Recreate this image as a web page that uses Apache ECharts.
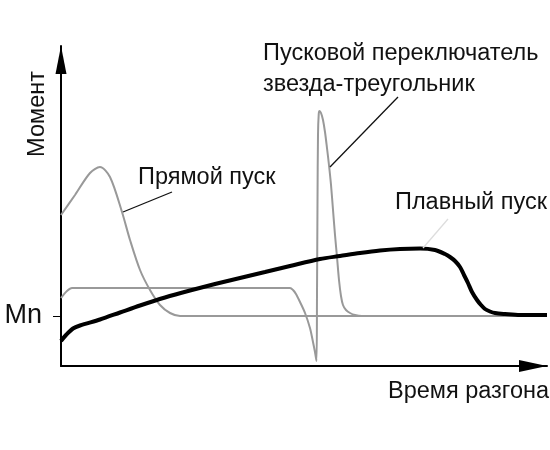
<!DOCTYPE html>
<html>
<head>
<meta charset="utf-8">
<script src="https://cdn.jsdelivr.net/npm/echarts@6/dist/echarts.min.js"></script>
<style>
  html, body { margin: 0; padding: 0; background: #fff; }
  #chart { width: 550px; height: 450px; }
</style>
</head>
<body>
<div id="chart"></div>
<script>
    // время разгона 0..100, момент в единицах Mn (Mn = 1)
    var directStart = [
        [0, 3.02], [2.88, 3.42], [5.97, 3.86], [8.02, 3.98], [10.08, 3.78],
        [12.55, 3.08], [14.2, 2.52], [16.26, 1.92], [18.31, 1.52], [20.37, 1.22],
        [22.43, 1.06], [24.49, 1.0], [30, 1.0], [100, 1.0]
    ];
    var starDelta = [
        [0, 1.36], [1.23, 1.5], [2.26, 1.56], [10, 1.56], [47.12, 1.56],
        [47.74, 1.52], [48.35, 1.44], [49.18, 1.28], [50.21, 1.06], [51.23, 0.76],
        [51.85, 0.48], [52.26, 0.28], [52.57, 0.1],
        [52.67, 1.32], [52.78, 3.32], [52.88, 4.62], [53.03, 5.04], [53.19, 5.1],
        [53.5, 5.06], [53.91, 4.92], [54.32, 4.68], [54.73, 4.36], [55.14, 4.02],
        [55.56, 3.62], [55.97, 3.12], [56.38, 2.62], [56.79, 2.18], [57.2, 1.72],
        [57.61, 1.4], [58.02, 1.22], [58.64, 1.12], [59.47, 1.06], [60.49, 1.02],
        [61.93, 1.0], [70, 1.0], [100, 1.0]
    ];
    var softStart = [
        [0, 0.5], [1.03, 0.62], [2.47, 0.75], [3.91, 0.81], [8.02, 0.93],
        [12.14, 1.07], [16.26, 1.21], [21.4, 1.37], [26.54, 1.51], [31.69, 1.64],
        [36.83, 1.76], [41.98, 1.88], [47.12, 2.0], [53.29, 2.14], [57.41, 2.2],
        [61.52, 2.26], [65.64, 2.31], [69.75, 2.34], [73.87, 2.35], [76.95, 2.32],
        [79.01, 2.24], [80.04, 2.18], [81.07, 2.1], [82.1, 1.98], [82.92, 1.82],
        [83.74, 1.66], [84.57, 1.48], [85.6, 1.32], [86.42, 1.22], [87.24, 1.14],
        [88.27, 1.09], [89.3, 1.06], [91.36, 1.04], [94.44, 1.02], [100, 1.02]
    ];
    var leaderDirect = [[12.76, 3.08], [22.84, 3.48]];
    var leaderStar = [[55.35, 3.98], [69.34, 5.38]];
    var leaderSoft = [[74.49, 2.36], [79.63, 2.94]];
    var mnTicks = [1];

    var font = "'Liberation Sans', Arial, sans-serif";

    function leader(pts, color) {
        return {
            silent: true,
            symbol: 'none',
            label: {show: false},
            lineStyle: {color: color, width: 1.3, type: 'solid'},
            data: [[{coord: pts[0]}, {coord: pts[1]}]]
        };
    }

    function text(str, x, y, rot) {
        return {
            type: 'text', x: x, y: y, rotation: rot || 0,
            style: {text: str, fill: '#111', font: '23.5px ' + font,
                textAlign: rot ? 'center' : 'left', textVerticalAlign: 'middle'}
        };
    }

    var chart = echarts.init(document.getElementById('chart'));
    chart.setOption({
        animation: false,
        grid: {left: 61, right: 3, top: 46, bottom: 84},
        xAxis: {
            type: 'value', min: 0, max: 100,
            splitLine: {show: false}, axisTick: {show: false}, axisLabel: {show: false},
            axisLine: {show: true, onZero: false, symbol: ['none', 'triangle'],
                symbolSize: [12, 28], symbolOffset: [0, -14],
                lineStyle: {color: '#000', width: 2}}
        },
        yAxis: {
            type: 'value', min: 0, max: 6.4,
            splitLine: {show: false},
            axisLine: {show: true, onZero: false, symbol: ['none', 'triangle'],
                symbolSize: [11, 28], symbolOffset: [0, -14],
                lineStyle: {color: '#000', width: 2}},
            axisTick: {show: true, customValues: mnTicks, length: 8,
                lineStyle: {color: '#000', width: 1}},
            axisLabel: {show: true, customValues: mnTicks, formatter: function () { return 'Mn'; },
                fontSize: 27, fontFamily: font, color: '#111', margin: 19}
        },
        series: [
            {type: 'line', data: starDelta, smooth: 0.3, showSymbol: false,
                lineStyle: {color: '#999', width: 2}, markLine: leader(leaderStar, '#111')},
            {type: 'line', data: directStart, smooth: 0.3, showSymbol: false,
                lineStyle: {color: '#999', width: 2}, markLine: leader(leaderDirect, '#111')},
            {type: 'line', data: softStart, smooth: 0.3, showSymbol: false,
                lineStyle: {color: '#000', width: 4}, markLine: leader(leaderSoft, '#ddd')}
        ],
        graphic: [
            text('Момент', 38, 114, Math.PI / 2),
            text('Прямой пуск', 138, 178),
            text('Пусковой переключатель', 263, 54),
            text('звезда-треугольник', 263, 85),
            text('Плавный пуск', 395, 203),
            text('Время разгона', 388, 392)
        ]
    });
</script>
</body>
</html>
